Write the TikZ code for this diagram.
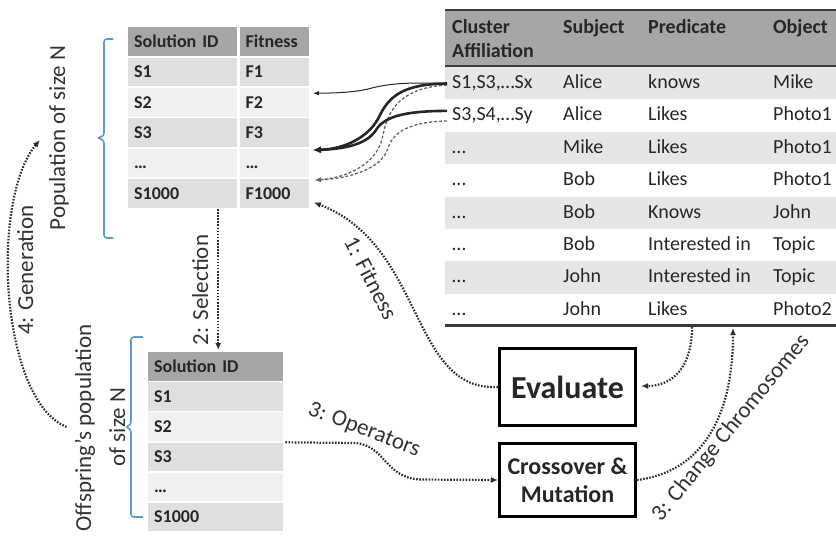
\documentclass[tikz,border=0pt]{standalone}
\usepackage{fontspec}
\setmainfont{Carlito}
\usetikzlibrary{arrows.meta,calc}

\definecolor{hdrgray}{HTML}{A6A6A6}
\definecolor{rowdark}{HTML}{DFDFDF}
\definecolor{rowlight}{HTML}{F0F0F0}
\definecolor{rowgray}{HTML}{E6E6E6}
\definecolor{ink}{HTML}{262626}
\definecolor{rulecol}{HTML}{3A3A3A}
\definecolor{bracecol}{HTML}{5B9BD5}
\definecolor{flow}{HTML}{2E2E2E}
\definecolor{labelcol}{HTML}{333333}

% one row of the triple table: index, then the four cells
\newcommand\triplerow[5]{%
  \node[tcell] (ta#1) at (452,{88.5+32.4*(#1-1)}) {#2};
  \node[tcell] (tb#1) at (563,{88.5+32.4*(#1-1)}) {#3};
  \node[tcell] (tc#1) at (648,{88.5+32.4*(#1-1)}) {#4};
  \node[tcell] (td#1) at (773,{88.5+32.4*(#1-1)}) {#5};
}

\begin{document}
\begin{tikzpicture}[x=1pt,y=-1pt,
  cell/.style={anchor=north west, inner xsep=6pt, inner ysep=0pt,
    minimum height=28.5pt, text height=13.5pt, text depth=2pt,
    align=left, text=ink, font=\fontsize{18}{21}\selectfont\bfseries},
  tcell/.style={anchor=base west, inner sep=0pt, text=ink,
    font=\fontsize{20}{24}\selectfont},
  thead/.style={tcell, font=\fontsize{20}{24}\selectfont\bfseries},
  box/.style={draw=black, line width=3pt, text=ink, inner sep=0pt,
    minimum width=136pt},
  lbl/.style={inner sep=0pt, text=labelcol, font=\fontsize{23}{28}\selectfont},
  brace/.style={draw=bracecol, line width=1.6pt, rounded corners=3pt},
  flowarrow/.style={draw=flow, line width=2.2pt, dash pattern=on 1.6pt off 1.5pt,
    -{Latex[length=7pt,width=6pt]}},
  thinlink/.style={draw=ink, line width=1pt, -{Latex[length=6pt,width=4.5pt]}},
  thicklink/.style={draw=ink, line width=2.6pt, -{Latex[length=8pt,width=7pt]}},
  dashlink/.style={draw=black!60, line width=1.3pt, dash pattern=on 3pt off 2pt,
    -{Latex[length=6pt,width=5pt]}},
]
\useasboundingbox (0,0) rectangle (836,539);

% ---------- population table ----------
\node[cell, fill=hdrgray, text width=97pt] (lh1) at (128,27) {Solution ID};
\node[cell, fill=hdrgray, text width=57pt] (lh2) at (239.5,27) {Fitness};
\foreach \k/\s/\f/\c in {1/S1/F1/rowdark, 2/S2/F2/rowlight, 3/S3/F3/rowdark,
                         4/…/…/rowlight, 5/S1000/F1000/rowdark} {
  \node[cell, fill=\c, text width=97pt] (la\k) at (128,{27+30.4*\k}) {\s};
  \node[cell, fill=\c, text width=57pt] (lb\k) at (239.5,{27+30.4*\k}) {\f};
}

% ---------- offspring table ----------
\node[cell, fill=hdrgray, text width=123pt] (oh) at (148,352) {Solution ID};
\foreach \k/\s/\c in {1/S1/rowdark, 2/S2/rowlight, 3/S3/rowdark,
                      4/…/rowlight, 5/S1000/rowdark} {
  \node[cell, fill=\c, text width=123pt] (ob\k) at (148,{352+30.1*\k}) {\s};
}

% ---------- triple table ----------
\fill[hdrgray] (445,10) rectangle (836,66);
\foreach \i in {1,3,5,7}
  \fill[rowgray] (445,{67+32.4*(\i-1)}) rectangle (836,{67+32.4*\i});
\draw[rulecol, line width=2.5pt] (445,10) -- (836,10);
\draw[rulecol, line width=2pt] (445,66) -- (836,66);
\draw[rulecol, line width=2.5pt] (445,325.5) -- (836,325.5);

\node[thead] (hca) at (452,33.5) {Cluster};
\node[thead] (hcb) at (452,57.5) {Affiliation};
\node[thead] (hs) at (563,33.5) {Subject};
\node[thead] (hp) at (648,33.5) {Predicate};
\node[thead] (ho) at (773,33.5) {Object};

\triplerow{1}{S1,S3,…Sx}{Alice}{knows}{Mike}
\triplerow{2}{S3,S4,…Sy}{Alice}{Likes}{Photo1}
\triplerow{3}{…}{Mike}{Likes}{Photo1}
\triplerow{4}{…}{Bob}{Likes}{Photo1}
\triplerow{5}{…}{Bob}{Knows}{John}
\triplerow{6}{…}{Bob}{Interested in}{Topic}
\triplerow{7}{…}{John}{Interested in}{Topic}
\triplerow{8}{…}{John}{Likes}{Photo2}

\coordinate (tbl1) at (692,327);
\coordinate (tbl2) at (733,328);

% ---------- operator boxes ----------
\node[box, minimum height=77pt, font=\fontsize{32}{36}\selectfont\bfseries]
  (eval) at (567.5,387) {Evaluate};
\node[box, minimum height=73pt, align=center,
  font=\fontsize{24}{28}\selectfont\bfseries] (cross) at (567.5,480)
  {Crossover \&\\Mutation};

% ---------- braces and side labels ----------
\draw[brace] (113,39) -- (104,39) -- (104,136) -- (97,138) -- (104,140)
  -- (104,238) -- (113,238);
\draw[brace] (143,337) -- (131,337) -- (131,425) -- (125,427) -- (131,429)
  -- (131,517) -- (143,517);

\node[lbl, rotate=90, anchor=base] (popl) at (65,138) {Population of size N};
\node[lbl, rotate=90, anchor=base] (offa) at (91,428) {Offspring’s population};
\node[lbl, rotate=90, anchor=base] (offb) at (125,427) {of size N};
\node[lbl, rotate=90, anchor=base] (gen) at (33,270) {4: Generation};
\node[lbl, rotate=90, anchor=base] (sel) at (208,290) {2: Selection};
\node[lbl, rotate=-62.5] (fit) at (371,278) {1: Fitness};
\node[lbl, rotate=-21] (op) at (364,430) {3: Operators};
\node[lbl, rotate=50.5] (chg) at (731,428) {3: Change Chromosomes};

% ---------- links from cluster affiliations to fitness entries ----------
\draw[thinlink] ($(ta1.base west)+(-5,-5)$) .. controls (405,82) and (388,84) .. (372,88)
  .. controls (358,92) and (340,93) .. ($(lb2.east)+(4,-9)$);
\draw[dashlink] ($(ta1.base west)+(-5,-3.5)$) .. controls (400,88) and (388,110) .. (383,135)
  .. controls (378,165) and (345,178) .. ($(lb5.north east)+(6,1)$);
\draw[dashlink] ($(ta2.base west)+(-5,0)$) .. controls (405,122) and (392,135) .. (388,148)
  .. controls (382,170) and (345,179) .. ($(lb5.north east)+(6,1)$);
\draw[thicklink] ($(ta1.base west)+(-5,-5)$) .. controls (405,84) and (390,95) .. (380,115)
  .. controls (370,137) and (345,149) .. ($(lb3.south east)+(4,3)$);
\draw[thicklink] ($(ta2.base west)+(-5,-10)$) .. controls (410,111) and (385,115) .. (376,130)
  .. controls (366,146) and (340,149) .. ($(lb3.south east)+(4,3)$);

% ---------- process flow ----------
\draw[flowarrow] (eval.west) .. controls (410,392) and (425,245) .. ($(lb5.east)+(5,9)$);
\draw[flowarrow] ($(la5.south)+(35.5,1)$) -- ($(oh.north)+(2.5,-2)$);
\draw[flowarrow] ($(ob3.north east)+(2,0)$) -- (355,443)
  .. controls (385,445) and (385,478) .. (420,479.5) -- (cross.west);
\draw[flowarrow] (tbl1) .. controls (692,368) and (672,386) .. ($(eval.east)+(4,-1)$);
\draw[flowarrow] (cross.east) .. controls (700,472) and (733,420) .. (tbl2);
\draw[flowarrow] ($(offa.north)+(-8,-1)$) .. controls (0,400) and (-10,200)
  .. ($(popl.north)+(-9,2)$);

\end{tikzpicture}
\end{document}
